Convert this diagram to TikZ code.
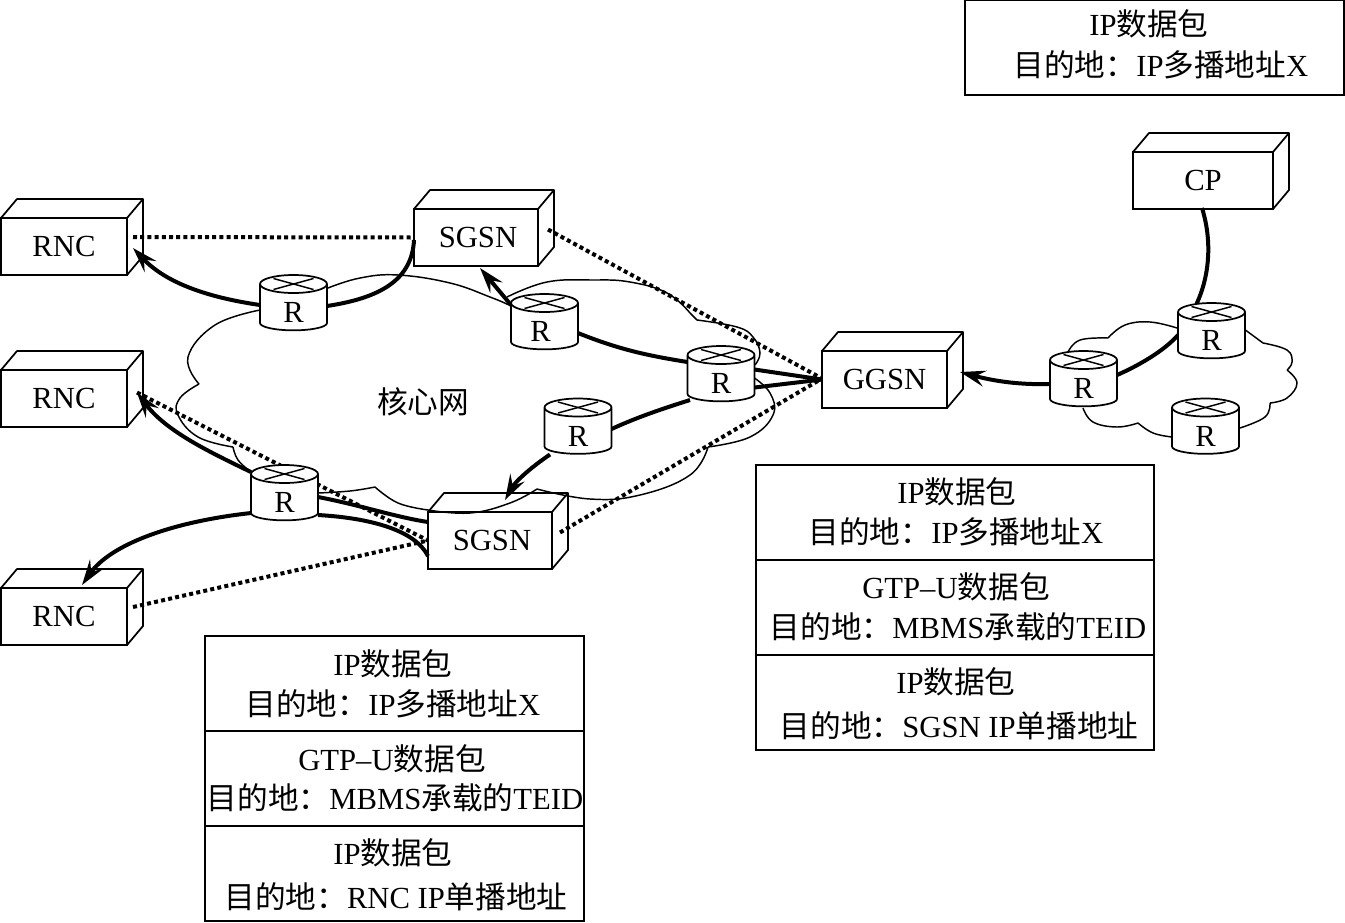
\documentclass[tikz,border=0pt]{standalone}
\usepackage{fontspec}
\setmainfont{Liberation Serif}
\newfontfamily\cjkf{Noto Sans CJK SC}
\newcommand\zh[1]{{\cjkf #1}}
\usetikzlibrary{arrows.meta,calc}
\tikzset{
  outline/.style={line width=1.3pt,black},
  cubenode/.style={outline,draw,fill=white,inner sep=0pt,outer sep=0pt,font=\fontsize{23}{27}\selectfont},
  routernode/.style={inner sep=0pt,outer sep=0pt,minimum width=50.25pt,minimum height=42.75pt},
  routertext/.style={inner sep=0pt,font=\fontsize{23}{27}\selectfont},
  cloudline/.style={line width=1.1pt,black},
  heavy/.style={line width=3pt,black},
  heavyarrow/.style={heavy,-{Stealth[length=19pt,width=12pt,inset=7pt]}},
  dotline/.style={line width=3pt,black,dash pattern=on 3pt off 2.4pt},
  cell/.style={outline,draw,fill=white,inner sep=0pt,outer sep=0pt,minimum width=284.25pt,minimum height=71.25pt},
  wide cell/.style={cell,minimum width=298.5pt},
  tline/.style={inner sep=0pt,font=\fontsize{23}{27}\selectfont},
}
% name, cx, cy, w, h, label
\newcommand\cubebox[6]{%
  \node[cubenode,minimum width=#4*0.75pt,minimum height=#5*0.75pt] (#1) at (#2,#3) {\raisebox{-0.7pt}{#6}};
  \draw[outline,fill=white,line join=round] (#1.north west) -- ++(16,-19) -- ++(#4,0) -- ++(0,#5) -- (#1.south east) -- (#1.north east) -- cycle;
  \draw[outline,line join=round] (#1.north east) -- ++(16,-19);
}
\newcommand\routershape[2][0]{%
  \draw[outline,fill=white] ([yshift=-6.75pt]#2.north west) -- ([yshift=6.75pt]#2.south west)
     arc[start angle=180,end angle=360,x radius=25.125pt,y radius=5.5pt]
     -- ([yshift=-6.75pt]#2.north east)
     arc[start angle=0,end angle=180,x radius=25.125pt,y radius=6.75pt]
     arc[start angle=180,end angle=360,x radius=25.125pt,y radius=6.75pt];
  \draw[line width=1.1pt] ([shift={(-20,5.5)},yshift=-6.75pt]#2.north) -- ([shift={(20,-5.5)},yshift=-6.75pt]#2.north);
  \draw[line width=1.1pt] ([shift={(-20,-5.5)},yshift=-6.75pt]#2.north) -- ([shift={(20,5.5)},yshift=-6.75pt]#2.north);
  \node[routertext] (#2t) at ([shift={(#1,0)},yshift=-7pt]#2.center) {R};
}
\newcommand\tline[4]{\node[tline] (#1) at (#2,#3) {#4};}
\begin{document}
\begin{tikzpicture}[x=0.75pt,y=-0.75pt]
\useasboundingbox (0,0) rectangle (1345,922);
% boxes
\cubebox{rncA}{64}{246.5}{126}{57}{RNC}
\cubebox{rncB}{64}{398.5}{126}{57}{RNC}
\cubebox{rncC}{64}{616.5}{126}{57}{RNC}
\cubebox{sgsnA}{476}{237.5}{124}{57}{\hspace*{3pt}SGSN}
\cubebox{sgsnB}{490}{540.5}{124}{57}{\hspace*{3pt}SGSN}
\cubebox{ggsn}{884.5}{379.5}{125}{57}{GGSN}
\cubebox{cp}{1203}{180.5}{140}{57}{CP}
% clouds
\begin{scope}[cloudline]
\draw plot[smooth,tension=.7] coordinates {(260,310)(215,325)(188,357)(199,384)};
\draw plot[smooth,tension=.7] coordinates {(199,384)(180,398)(178,415)(198,437)(233,447)};
\draw plot[smooth,tension=.7] coordinates {(233,447)(238,460)(251,472)};
\draw plot[smooth,tension=.7] coordinates {(318,493)(350,491)(375,487)};
\draw plot[smooth,tension=.7] coordinates {(375,487)(398,503)(428,510)};
\draw plot[smooth,tension=.7] coordinates {(428,510)(470,513)(510,503)(537,489)};
\draw plot[smooth,tension=.7] coordinates {(537,489)(590,499)(640,495)(690,475)(708,447)};
\draw plot[smooth,tension=.7] coordinates {(708,447)(750,437)(773,415)(770,393)(753,377)};
\draw plot[smooth,tension=.7] coordinates {(755,365)(760,353)(753,337)(737,327)(697,320)};
\draw plot[smooth,tension=.7] coordinates {(697,320)(690,313)};
\draw plot[smooth,tension=.7] coordinates {(690,313)(667,293)(630,282)(593,280)(547,282)(507,297)};
\draw plot[smooth,tension=.7] coordinates {(509,305)(490,297)(450,283)(398,275)(360,278)(328,288)};
% right cloud
\draw plot[smooth,tension=.7] coordinates {(1068,352)(1080,340)(1108,338)};
\draw plot[smooth,tension=.7] coordinates {(1108,338)(1125,325)(1150,322)(1177,328)};
\draw plot[smooth,tension=.7] coordinates {(1244,329)(1263,343)};
\draw plot[smooth,tension=.7] coordinates {(1263,343)(1287,350)(1292,362)(1287,370)};
\draw plot[smooth,tension=.7] coordinates {(1287,370)(1297,383)(1287,398)(1270,403)};
\draw plot[smooth,tension=.7] coordinates {(1270,403)(1265,417)(1240,428)};
\draw plot[smooth,tension=.7] coordinates {(1172,437)(1153,433)(1138,423)};
\draw plot[smooth,tension=.7] coordinates {(1138,423)(1117,427)(1093,422)(1083,408)};
\end{scope}
% router anchors
\node[routernode] (rA) at (293.5,303.5) {};
\node[routernode] (rB) at (544.5,322.5) {};
\node[routernode] (rC) at (721,374.5) {};
\node[routernode] (rD) at (578,427) {};
\node[routernode] (rE) at (284.5,493.5) {};
\node[routernode] (rF) at (1083.5,379.5) {};
\node[routernode] (rG) at (1211.5,331.5) {};
\node[routernode] (rH) at (1205.5,427) {};
% dotted links
\draw[dotline] ([shift={(6,-9.5)}]rncA.east) -- (sgsnA.west);
\draw[dotline] ([shift={(10,-8)}]sgsnA.east) -- ([shift={(0,-1)}]ggsn.west);
\draw[dotline] ([shift={(8,-8)}]sgsnB.east) -- ([shift={(0,-1)}]ggsn.west);
\draw[dotline] ([shift={(10,-6)}]rncB.east) -- (sgsnB.west);
\draw[dotline] ([shift={(6,-9.5)}]rncC.east) -- (sgsnB.west);
% heavy links
\draw[heavy] ([shift={(0,2.5)}]rA.east) .. controls (380,298) and (412,280) .. ([shift={(0,2.5)}]sgsnA.west);
\draw[heavyarrow] ([shift={(0,1.5)}]rA.west) .. controls (205,297) and (165,282) .. ([shift={(6,1.5)}]rncA.east);
\draw[heavyarrow] ([shift={(0,-17.5)}]rB.west) -- ([shift={(4,2)}]sgsnA.south);
\draw[heavy] ([shift={(0,10.5)}]rB.east) .. controls (620,350) and (650,356) .. ([shift={(0,-12.5)}]rC.west);
\draw[heavy] ([shift={(-31,-3)}]rC.south) .. controls (665,408) and (640,416) .. ([shift={(0,2)}]rD.east);
\draw[heavyarrow] ([shift={(-28,-1)}]rD.south) .. controls (530,468) and (515,482) .. ([shift={(15,-12)}]sgsnB.north);
\draw[heavy] (ggsn.west) -- ([shift={(0,-5)}]rC.east);
\draw[heavy] (ggsn.west) -- ([shift={(0,13)}]rC.east);
\draw[heavyarrow] ([shift={(0,4.5)}]rF.west) .. controls (1015,385) and (990,380) .. ([shift={(13,-7.5)}]ggsn.east);
\draw[heavy] ([shift={(0,-4.5)}]rF.east) .. controls (1140,365) and (1165,350) .. ([shift={(0,3.5)}]rG.west);
\draw[heavy] ([shift={(-1,-1)}]cp.south) .. controls (1212,240) and (1210,275) .. ([shift={(-15,1)}]rG.north);
\draw[heavyarrow] ([shift={(0,-21.5)}]rE.west) .. controls (205,450) and (165,430) .. ([shift={(10,-6)}]rncB.east);
\draw[heavyarrow] ([shift={(0,19.5)}]rE.west) .. controls (170,522) and (110,545) .. ([shift={(18,-3)}]rncC.north);
\draw[heavy] ([shift={(0,3.5)}]rE.east) .. controls (360,505) and (395,517) .. ([shift={(0,-18.5)}]sgsnB.west);
\draw[heavy] ([shift={(0,21.5)}]rE.east) .. controls (370,518) and (415,530) .. ([shift={(0,15.5)}]sgsnB.west);
% routers on top
\routershape{rA}\routershape[-4]{rB}\routershape{rC}\routershape{rD}
\routershape{rE}\routershape{rF}\routershape{rG}\routershape{rH}
\node[tline] (core) at (423,402) {\zh{核心网}};
% table top
\node[cell] (tA) at (1154.5,47.5) {};
\tline{tAa}{1149}{24}{IP\zh{数据包}}
\tline{tAb}{1161}{65}{\zh{目的地：}IP\zh{多播地址}X}
% table right
\node[wide cell] (tBa) at (955,512.5) {};
\node[wide cell] (tBb) at (955,607.5) {};
\node[wide cell] (tBc) at (955,702.5) {};
\tline{tBal}{957}{492}{IP\zh{数据包}}
\tline{tBam}{956}{532}{\zh{目的地：}IP\zh{多播地址}X}
\tline{tBbl}{956}{587}{GTP–U\zh{数据包}}
\tline{tBbm}{958}{627}{\zh{目的地：}MBMS\zh{承载的}TEID}
\tline{tBcl}{956}{682}{IP\zh{数据包}}
\tline{tBcm}{959}{726}{\zh{目的地：}SGSN IP\zh{单播地址}}
% table bottom
\node[cell] (tCa) at (394.5,683.5) {};
\node[cell] (tCb) at (394.5,778.5) {};
\node[cell] (tCc) at (394.5,873.5) {};
\tline{tCal}{393}{664}{IP\zh{数据包}}
\tline{tCam}{393}{704}{\zh{目的地：}IP\zh{多播地址}X}
\tline{tCbl}{392}{759}{GTP–U\zh{数据包}}
\tline{tCbm}{395}{798}{\zh{目的地：}MBMS\zh{承载的}TEID}
\tline{tCcl}{393}{853}{IP\zh{数据包}}
\tline{tCcm}{396}{897}{\zh{目的地：}RNC IP\zh{单播地址}}
\end{tikzpicture}
\end{document}
